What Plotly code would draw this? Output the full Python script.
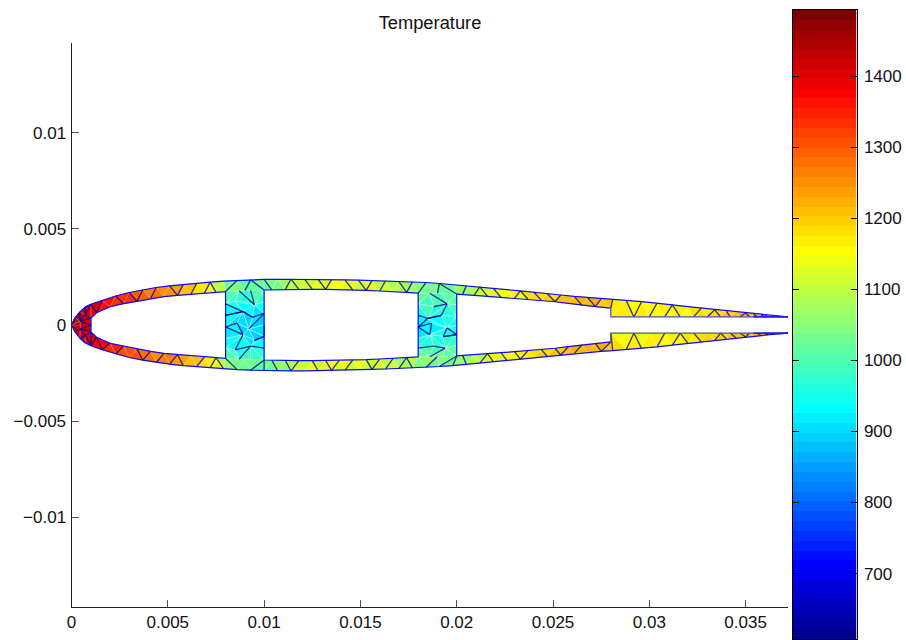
import plotly.graph_objects as go

# ---------- axes ----------
X_TICKS = [0, 0.005, 0.01, 0.015, 0.02, 0.025, 0.03, 0.035]
X_LABELS = ["0", "0.005", "0.01", "0.015", "0.02", "0.025", "0.03", "0.035"]
Y_TICKS = [-0.01, -0.005, 0, 0.005, 0.01]
Y_LABELS = ["\u22120.01", "\u22120.005", "0", "0.005", "0.01"]
CB_TICKS = [700, 800, 900, 1000, 1100, 1200, 1300, 1400]
T_MIN, T_MAX = 608, 1493

# ---------- skin mesh ----------
OUT_X = [.00101,.0016,.0023,.0030,.0037,.0044,.0051,.0058,.0065,.0072,.0079,.0086,.0093,.0100,.0107,.0114,.0121,.0128,.0135,.0142,.0149,.0156,.0163,.0170,.0177,.0184,.0191,.0198,.0205,.0212,.0219,.0226,.0233,.0240,.0247,.0254,.0261,.0268,.0275,.0281,.0288,.0296,.0304,.0312,.0320,.0327,.0334,.0340,.0345,.0350,.0354,.0358,.0361,.0364,.0366,.0368,.0370,.0372]
OUT_Y = [.00108,.00129,.00151,.00169,.00183,.00195,.00204,.00211,.00217,.00223,.00228,.00232,.00235,.00237,.00238,.00239,.00239,.00238,.00236,.00235,.00233,.00231,.00229,.00226,.00224,.00221,.00216,.00211,.00204,.00198,.00191,.00184,.00178,.00172,.00164,.00156,.00149,.00143,.00137,.00133,.00128,.00122,.00114,.00105,.00096,.00088,.00079,.00072,.00067,.00062,.00059,.00055,.00052,.00049,.00047,.00045,.00044,.00042]
IN_X = [.00101,.0013,.0020,.0027,.0034,.0041,.0048,.0055,.0062,.0069,.0075,.0080,.0090,.0100,.0104,.0111,.0118,.0125,.0132,.0139,.0146,.0153,.0160,.0167,.0174,.0180,.0190,.0200,.0203,.0209,.0216,.0223,.0230,.0237,.0244,.0251,.0258,.0265,.0272,.0280,.0280,.0292,.0300,.0308,.0316,.0323,.0330,.0337,.0342,.0347,.0352,.0356,.0360,.0362,.0365,.0367,.0369,.0372]
IN_Y = [.00036,.00064,.00095,.00111,.00123,.00137,.00148,.00154,.0016,.00166,.0017,.00174,.00179,.00182,.00183,.00184,.00185,.00185,.00185,.00184,.00182,.0018,.00177,.00174,.0017,.00166,.00164,.00161,.00158,.00154,.00149,.00144,.00139,.00134,.00128,.00121,.00112,.00103,.00096,.00088,.00042,.00042,.00042,.00042,.00042,.00042,.00042,.00042,.00042,.00042,.00042,.00042,.00042,.00042,.00042,.00042,.00042,.00042]
T_UP = [1395,1365,1335,1310,1285,1265,1240,1215,1180,1135,1065,1015,1020,1030,1060,1095,1115,1130,1140,1135,1125,1115,1105,1090,1060,1035,1025,1045,1085,1115,1135,1150,1165,1180,1195,1205,1215,1220,1205,1185,1165,1155,1155,1165,1170,1175,1190,1200,1205,1215,1220,1230,1235,1240,1245,1250,1250,1255]
T_LOW = [1390,1355,1325,1300,1280,1260,1245,1225,1195,1155,1085,1025,1015,1035,1055,1090,1120,1140,1145,1130,1130,1110,1110,1080,1065,1040,1030,1040,1080,1110,1130,1155,1160,1185,1190,1210,1210,1225,1200,1180,1160,1160,1150,1165,1175,1180,1195,1195,1210,1210,1225,1230,1240,1240,1250,1250,1255,1255]
TRI_VAR = [0,12,-9,7,-14,5,11,-7,3,-12,9,-4]
EDGE_DARK = [1,1,0,0,1,0,1,1,0,1,0,0,1,1,0,1,0]
RIB_DARK = [0,0,1,0,0,1,1,0,0,0,1,0,0]

# ---------- nose ----------
NOSE_X = [0,.00018,.00044,.0007,.00101,.00101,.00101,.00045,.00072,.00018,.00044,.0007,.00101,.00101,.00045,.00072]
NOSE_Y = [0,.00036,.00068,.00092,.00108,.00036,0,.0002,.00055,-.00036,-.00068,-.00092,-.00108,-.00036,-.0002,-.00055]
NOSE_T = [1440,1430,1420,1405,1395,1395,1410,1430,1410,1430,1420,1405,1390,1395,1430,1410]
NOSE_TRI = [(0,1,7),(1,2,7),(2,8,7),(2,3,8),(3,4,8),(4,5,8),(7,8,5),(7,5,6),(0,7,14),(7,6,14),(0,9,14),(9,10,14),(10,15,14),(10,11,15),(11,12,15),(12,13,15),(14,15,13),(14,13,6)]

# ---------- ribs ----------
RIB1_X = [[.0080,.0087,.0093,.0100],[.0080,.0085,.0095,.0100],[.0080,.0089,.0094,.0100],[.0080,.0086,.0092,.0100],[.0080,.0089,.0095,.0100],[.0080,.0085,.0093,.0100],[.0080,.0087,.0093,.0100]]
RIB1_Y = [[.00174,.00178,.0018,.00182],[.0011,.00125,.00105,.0012],[.0005,.0007,.0004,.0006],[-.0001,.0001,-.0002,0],[-.0007,-.0005,-.0008,-.0006],[-.0012,-.0013,-.0011,-.0012],[-.00174,-.00178,-.0018,-.00182]]
RIB1_T = [[1010,1005,1005,1015],[975,960,950,960],[940,925,910,915],[925,905,890,890],[930,915,905,905],[960,955,945,950],[1020,1010,1005,1015]]
RIB2_X = [[.0180,.0186,.0193,.0200],[.0180,.0188,.0195,.0200],[.0180,.0185,.0192,.0200],[.0180,.0187,.0195,.0200],[.0180,.0186,.0193,.0200],[.0180,.0188,.0194,.0200],[.0180,.0186,.0193,.0200]]
RIB2_Y = [[.00166,.00165,.00163,.00161],[.0011,.00095,.0011,.00105],[.0005,.00035,.0005,.00045],[-.0001,.0001,-.00015,0],[-.0007,-.0005,-.0006,-.0005],[-.0012,-.0011,-.0012,-.00105],[-.00166,-.00165,-.00163,-.00161]]
RIB2_T = [[1020,1020,1015,1030],[985,985,985,990],[935,945,960,965],[905,920,945,955],[925,940,960,965],[970,980,990,995],[1040,1040,1030,1040]]

# ---------- helpers ----------
def jet(v):
    c = lambda a: max(0.0, min(1.0, a))
    return (c(min(4*v-1.5, -4*v+4.5)), c(min(4*v-.5, -4*v+3.5)), c(min(4*v+.5, -4*v+2.5)))
PALETTE = ["rgb(%d,%d,%d)" % tuple(round(255*k) for k in jet((i+1)/64)) for i in range(64)]
def level(t):
    return max(0, min(63, int((t-T_MIN)/(T_MAX-T_MIN)*64)))

tris = []
dark, light = [], []
def edge(p, q, is_dark):
    (dark if is_dark else light).append((p, q))

def add_tri(pts, t):
    tris.append((pts, t + TRI_VAR[len(tris) % len(TRI_VAR)]))

def strip(sign, temps):
    n = len(OUT_X)
    O = [(OUT_X[i], sign*OUT_Y[i]) for i in range(n)]
    I = [(IN_X[i], sign*IN_Y[i]) for i in range(n)]
    s = 0 if sign > 0 else 5
    add_tri([O[0], I[0], I[1]], temps[0])
    edge(O[0], I[1], 1)
    for i in range(n-1):
        add_tri([O[i], I[i+1], O[i+1]], (temps[i]*2+temps[i+1])/3)
        edge(I[i+1], O[i+1], EDGE_DARK[(2*i+1+s) % len(EDGE_DARK)])
        if i < n-2:
            add_tri([I[i+1], I[i+2], O[i+1]], (temps[i]+temps[i+1]*2)/3)
            edge(O[i+1], I[i+2], EDGE_DARK[(2*i+2+s) % len(EDGE_DARK)])
strip(1, T_UP)
strip(-1, T_LOW)

for k, (a, b, c) in enumerate(NOSE_TRI):
    pts = [(NOSE_X[j], NOSE_Y[j]) for j in (a, b, c)]
    add_tri(pts, sum(NOSE_T[j] for j in (a, b, c))/3)
    edge(pts[0], pts[1], EDGE_DARK[k % len(EDGE_DARK)])
    edge(pts[1], pts[2], EDGE_DARK[(k+3) % len(EDGE_DARK)])

def rib(X, Y, T, off):
    k = off
    last_r = len(X)-2
    last_c = len(X[0])-2
    for r in range(len(X)-1):
        for c in range(len(X[0])-1):
            p = lambda rr, cc: (X[rr][cc], Y[rr][cc])
            t = lambda rr, cc: T[rr][cc]
            if (r+c) % 2 == 0:
                a = [(r,c),(r,c+1),(r+1,c)]; b = [(r,c+1),(r+1,c+1),(r+1,c)]
            else:
                a = [(r,c),(r+1,c+1),(r+1,c)]; b = [(r,c),(r,c+1),(r+1,c+1)]
            corner = r in (0, last_r) and c in (0, last_c)
            for q in (a, b):
                add_tri([p(*n) for n in q], sum(t(*n) for n in q)/3)
                edge(p(*q[0]), p(*q[1]), (not corner) and RIB_DARK[k % len(RIB_DARK)]); k += 1
                edge(p(*q[1]), p(*q[2]), (not corner) and RIB_DARK[k % len(RIB_DARK)]); k += 1
                edge(p(*q[2]), p(*q[0]), 0); k += 1
rib(RIB1_X, RIB1_Y, RIB1_T, 0)
rib(RIB2_X, RIB2_Y, RIB2_T, 4)

fig = go.Figure()

# mesh fills, grouped by palette band
bands = {}
for pts, t in tris:
    bx, by = bands.setdefault(level(t), ([], []))
    for x, y in pts + pts[:1]:
        bx.append(x); by.append(y)
    bx.append(None); by.append(None)
for lv, (bx, by) in sorted(bands.items()):
    fig.add_trace(go.Scatter(x=bx, y=by, mode="lines", fill="toself", fillcolor=PALETTE[lv],
                             line=dict(color=PALETTE[lv], width=0.5), hoverinfo="skip", showlegend=False))

def seg_trace(segs, color, width):
    xs, ys = [], []
    for p, q in segs:
        xs += [p[0], q[0], None]; ys += [p[1], q[1], None]
    fig.add_trace(go.Scatter(x=xs, y=ys, mode="lines", line=dict(color=color, width=width),
                             hoverinfo="skip", showlegend=False))
seg_trace(light, "rgba(255,255,255,0.4)", 0.8)
seg_trace(dark, "rgba(0,0,150,0.8)", 1.3)

# boundaries
def outline(xs, ys, color="#0a0aff", width=1.2):
    fig.add_trace(go.Scatter(x=xs, y=ys, mode="lines", line=dict(color=color, width=width),
                             hoverinfo="skip", showlegend=False))
nose_up = [0, 1, 2, 3]
ox = OUT_X[::-1] + [NOSE_X[j] for j in nose_up[::-1]] + [NOSE_X[9], NOSE_X[10], NOSE_X[11]] + OUT_X
oy = OUT_Y[::-1] + [NOSE_Y[j] for j in nose_up[::-1]] + [NOSE_Y[9], NOSE_Y[10], NOSE_Y[11]] + [-v for v in OUT_Y]
outline(ox, oy)
def cavity(lo, hi):
    idx = [i for i in range(len(IN_X)) if lo <= IN_X[i] <= hi and not (IN_X[i] == hi and IN_Y[i] < .0005)]
    xs = [IN_X[i] for i in idx]; ys = [IN_Y[i] for i in idx]
    return xs + xs[::-1] + xs[:1], ys + [-v for v in ys[::-1]] + ys[:1]
outline(*cavity(.00101, .0080))
outline(*cavity(.0100, .0180))
# rear cavity opens into the trailing-edge slot
idx = [i for i in range(len(IN_X)) if .0200 <= IN_X[i] <= .0280 and IN_Y[i] > .0005]
rx = [IN_X[i] for i in idx]; ry = [IN_Y[i] for i in idx]
outline(rx[::-1] + [.0200] + rx[1:], [-v for v in ry[::-1]] + [ry[0]] + ry[1:])
slot = [i for i in range(len(IN_X)) if IN_X[i] >= .0280 and IN_Y[i] < .0005]
outline([.0280, .0280] + [IN_X[i] for i in slot], [.00088, .00042] + [IN_Y[i] for i in slot], "#4a55d0", 1.2)
outline([.0280, .0280] + [IN_X[i] for i in slot], [-.00088, -.00042] + [-IN_Y[i] for i in slot], "#4a55d0", 1.2)
outline([OUT_X[-1]-.0018, OUT_X[-1]], [.00042, .00042], "#0a0aff", 1.2)
outline([OUT_X[-1]-.0018, OUT_X[-1]], [-.00042, -.00042], "#0a0aff", 1.2)

# colour bar as a heat map on its own axes
step = (T_MAX-T_MIN)/64
centers = [T_MIN+step*(i+.5) for i in range(64)]
fig.add_trace(go.Heatmap(x=[0], y=centers, z=[[c] for c in centers], zmin=centers[0], zmax=centers[-1],
                         colorscale=[[i/63, PALETTE[i]] for i in range(64)], showscale=False,
                         hoverinfo="skip", xaxis="x2", yaxis="y2"))

W, H = 906, 640
FONT = "Liberation Sans, Arial, Helvetica, sans-serif"
L0 = 5.0
fx = lambda px: (px-L0)/(W-L0)
fig.update_layout(
    width=W, height=H, autosize=False, margin=dict(l=0, r=0, t=0, b=0),
    paper_bgcolor="white", plot_bgcolor="white", showlegend=False,
    font=dict(family=FONT, size=17, color="#111111"),
    title=dict(text="Temperature", x=430/W, xref="container", xanchor="center", y=1-22.5/H, yanchor="middle",
               font=dict(family=FONT, size=18.3, color="#111111")),
    xaxis=dict(domain=[fx(71.5), fx(788)], range=[0, .0372], tickmode="array", tickvals=X_TICKS, ticktext=X_LABELS,
               ticks="inside", ticklen=7, tickcolor="#555555", tickwidth=1, showgrid=False, zeroline=False,
               showline=True, linecolor="#222222", linewidth=1, anchor="y", ticklabelstandoff=0),
    yaxis=dict(domain=[33/H, 597/H], range=[-.01467, .01467], tickmode="array", tickvals=Y_TICKS, ticktext=Y_LABELS,
               ticks="inside", ticklen=7, tickcolor="#555555", tickwidth=1, showgrid=False, zeroline=False,
               showline=True, linecolor="#222222", linewidth=1, anchor="x", ticklabelstandoff=1),
    xaxis2=dict(domain=[fx(792.5), fx(856.5)], range=[-.5, .5], showticklabels=False, ticks="", showgrid=False, zeroline=False,
                showline=True, mirror=True, linecolor="#000000", linewidth=1, anchor="y2"),
    yaxis2=dict(domain=[1/H, 630/H], range=[T_MIN, T_MAX], side="right", tickmode="array", tickvals=CB_TICKS,
                ticks="inside", ticklen=6, tickcolor="#000000", tickwidth=1, showgrid=False, zeroline=False,
                showline=True, mirror="ticks", linecolor="#000000", linewidth=1, anchor="x2", ticklabelstandoff=3),
)

fig.write_html("out.html", config=dict(displayModeBar=False),
               post_script="document.body.style.margin='0';")
